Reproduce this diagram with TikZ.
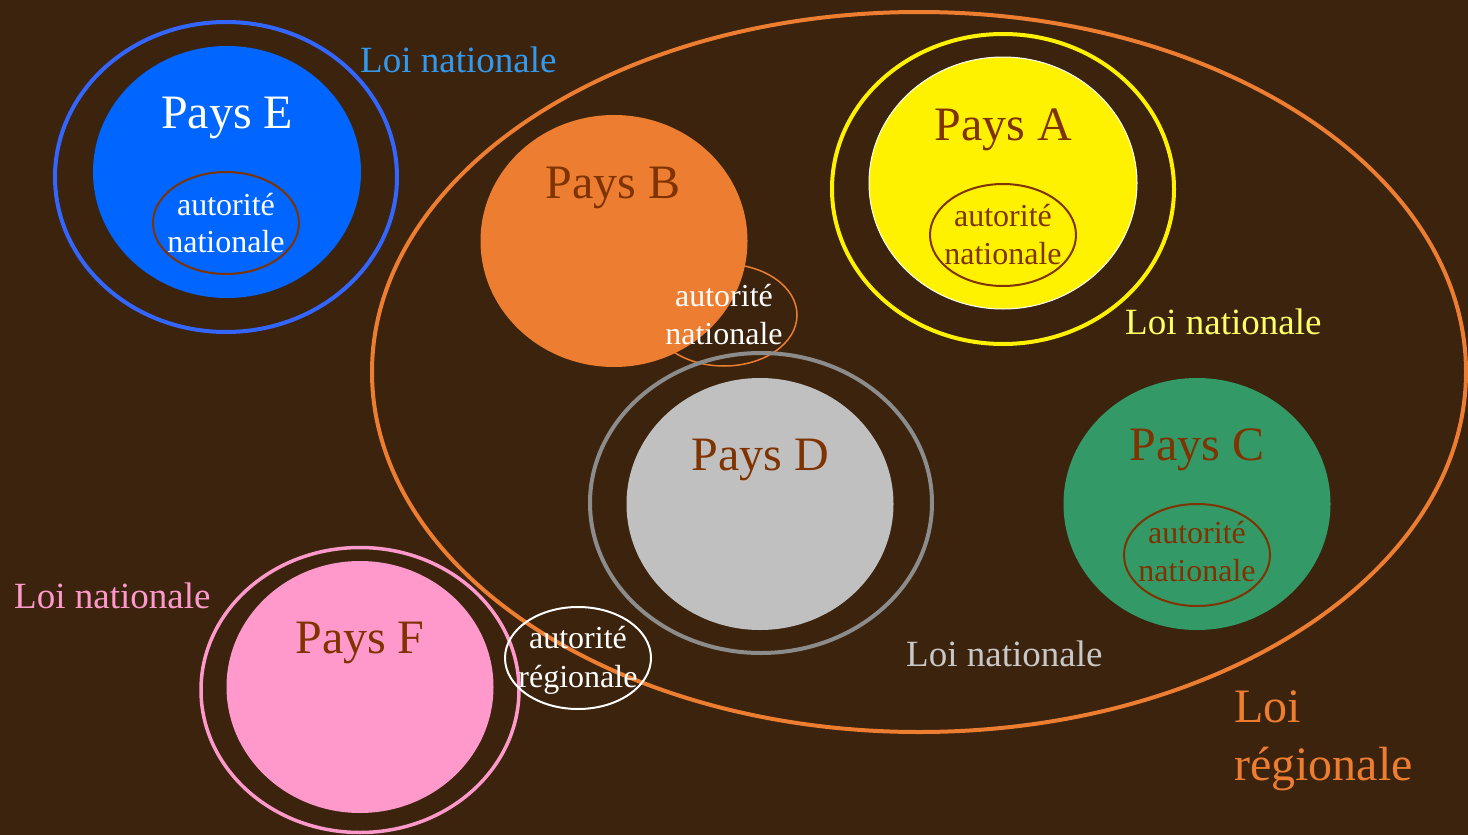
\documentclass[tikz,border=0pt]{standalone}
\usepackage{fontspec}
\setmainfont{Liberation Serif}
\usetikzlibrary{shapes.geometric}
\definecolor{bg}{HTML}{3B230D}
\definecolor{orangeC}{HTML}{ED7D31}
\definecolor{brownT}{HTML}{7F3300}
\definecolor{blueFill}{HTML}{0066FF}
\definecolor{blueRing}{HTML}{3366FF}
\definecolor{blueText}{HTML}{3399EE}
\definecolor{yellowText}{HTML}{FFFF66}
\definecolor{grayFill}{HTML}{C0C0C0}
\definecolor{grayRing}{HTML}{8C8C8C}
\definecolor{grayText}{HTML}{C8C8C8}
\definecolor{greenFill}{HTML}{339966}
\definecolor{pinkFill}{HTML}{FF99CC}
\tikzset{
  blob/.style={ellipse, inner sep=0pt, outer sep=0pt},
  ring/.style={ellipse, inner sep=0pt, outer sep=0pt, draw, line width=4pt},
  auth/.style={ellipse, inner sep=0pt, outer sep=0pt, draw, line width=2pt, minimum width=146pt, minimum height=102pt},
  big/.style={anchor=base, inner sep=0pt, font=\fontsize{48}{58}\selectfont},
  loi/.style={anchor=base west, inner sep=0pt, font=\fontsize{37}{44}\selectfont},
  small/.style={anchor=base, inner sep=0pt, font=\fontsize{32}{38}\selectfont},
}
\begin{document}
\begin{tikzpicture}[x=1pt,y=-1pt]
\fill[bg] (0,0) rectangle (1468,835);
\useasboundingbox (0,0) rectangle (1468,835);

% regional law
\node[ring, draw=orangeC, minimum width=1094pt, minimum height=720pt] (reg) at (919,372) {};

% Pays E
\node[ring, draw=blueRing, minimum width=342pt, minimum height=310pt] (ringE) at (226,177) {};
\node[blob, fill=blueFill, minimum width=268pt, minimum height=252pt] (E) at (227,172) {};
\node[auth, draw=brownT] (authE) at (226,223) {};
\node[big, text=white] (tE) at (227,128) {Pays E};
\node[small, text=white] (aE1) at (226,215) {autorité};
\node[small, text=white] (aE2) at (226,252) {nationale};
\node[loi, text=blueText] (lE) at (360,72) {Loi nationale};

% Pays B
\node[auth, draw=orangeC, line width=1.5pt] (authB) at (724,315) {};
\node[blob, fill=orangeC, minimum width=267pt, minimum height=252pt] (B) at (614,241) {};
\node[big, text=brownT] (tB) at (613,198) {Pays B};
\node[small, text=white] (aB1) at (724,306) {autorité};
\node[small, text=white] (aB2) at (724,344) {nationale};

% Pays A
\node[ring, draw=yellow, minimum width=342pt, minimum height=310pt] (ringA) at (1003,189) {};
\node[blob, fill=yellow, draw=white, line width=1pt, minimum width=268pt, minimum height=252pt] (A) at (1003,183) {};
\node[auth, draw=brownT] (authA) at (1003,235) {};
\node[big, text=brownT] (tA) at (1003,140) {Pays A};
\node[small, text=brownT] (aA1) at (1003,226) {autorité};
\node[small, text=brownT] (aA2) at (1003,264) {nationale};
\node[loi, text=yellowText] (lA) at (1125,334) {Loi nationale};

% Pays D
\node[ring, draw=grayRing, minimum width=342pt, minimum height=300pt] (ringD) at (761,503) {};
\node[blob, fill=grayFill, minimum width=267pt, minimum height=252pt] (D) at (760,504) {};
\node[big, text=brownT] (tD) at (760,470) {Pays D};
\node[loi, text=grayText] (lD) at (906,666) {Loi nationale};

% Pays C
\node[blob, fill=greenFill, minimum width=267pt, minimum height=252pt] (C) at (1197,504) {};
\node[auth, draw=brownT] (authC) at (1197,555) {};
\node[big, text=brownT] (tC) at (1197,460) {Pays C};
\node[small, text=brownT] (aC1) at (1197,543) {autorité};
\node[small, text=brownT] (aC2) at (1197,581) {nationale};

% Pays F
\node[ring, draw=pinkFill, line width=3.5pt, minimum width=318pt, minimum height=285pt] (ringF) at (360,690) {};
\node[blob, fill=pinkFill, minimum width=267pt, minimum height=252pt] (F) at (360,687) {};
\node[big, text=brownT] (tF) at (360,653) {Pays F};
\node[loi, text=pinkFill] (lF) at (14,608) {Loi nationale};

% autorite regionale
\node[auth, draw=white] (authR) at (578,658) {};
\node[small, text=white] (aR1) at (578,648) {autorité};
\node[small, text=white] (aR2) at (578,687) {régionale};

% Loi regionale
\node[anchor=base west, inner sep=0pt, text=orangeC, font=\fontsize{48}{58}\selectfont] (lR1) at (1234,722) {Loi};
\node[anchor=base west, inner sep=0pt, text=orangeC, font=\fontsize{48}{58}\selectfont] (lR2) at (1234,780) {régionale};
\end{tikzpicture}
\end{document}
